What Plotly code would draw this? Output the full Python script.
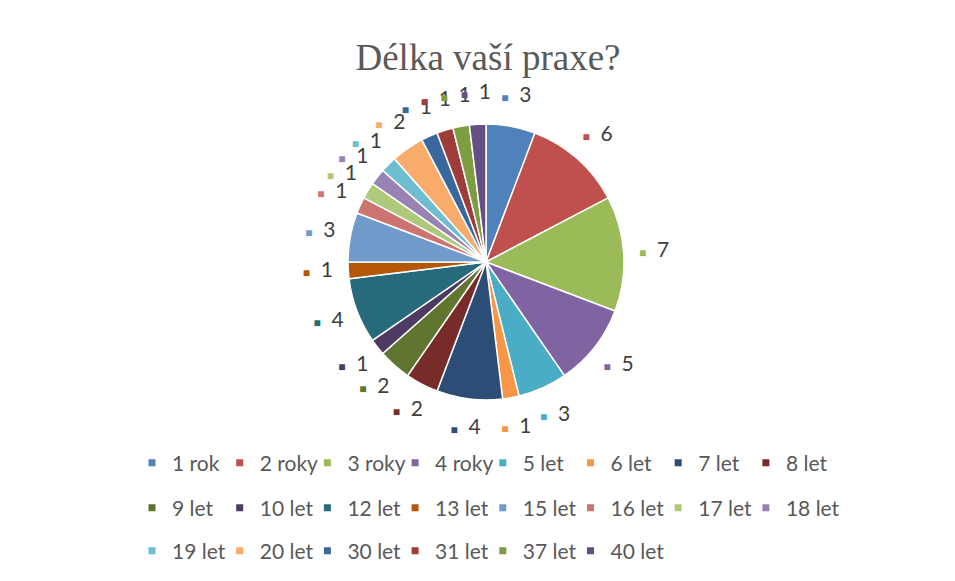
import plotly.graph_objects as go

categories = ["1 rok", "2 roky", "3 roky", "4 roky", "5 let", "6 let", "7 let", "8 let",
              "9 let", "10 let", "12 let", "13 let", "15 let", "16 let", "17 let", "18 let",
              "19 let", "20 let", "30 let", "31 let", "37 let", "40 let"]
counts = [3, 6, 7, 5, 3, 1, 4, 2, 2, 1, 4, 1, 3, 1, 1, 1, 1, 2, 1, 1, 1, 1]
colors = ["#4F81BD", "#C0504D", "#9BBB59", "#8064A2", "#4BACC6", "#F79646", "#2C4D75", "#772C2A",
          "#5F7530", "#4D3B62", "#276A7C", "#B65708", "#729ACA", "#CD7371", "#AFC97A", "#9983B5",
          "#6FBDD1", "#F9AB6B", "#3A679C", "#9F3B38", "#7E9D40", "#664F83"]

OFF = 8  # default margin of the html body
W, H = 955 - 2 * OFF, 581 - 2 * OFF  # keep the page free of scrollbars


def px(x):
    return (x - OFF) / W


def py(y):
    return 1 - (y - OFF) / H


SANS = "Lato, 'Open Sans', sans-serif"

# pie placement (page pixels)
cx, cy, r = 486, 262, 138
LABEL_R = 1.22   # label distance, in pie radii
POLAR_R = 1.35   # polar axis reaches a bit beyond the pie so labels are not clipped
dom = dict(x=[px(cx - r), px(cx + r)], y=[py(cy + r), py(cy - r)])
pdom = dict(x=[px(cx - POLAR_R * r), px(cx + POLAR_R * r)],
            y=[py(cy + POLAR_R * r), py(cy - POLAR_R * r)])

total = sum(counts)
mids = []
acc = 0
for v in counts:
    mids.append(360.0 * (acc + v / 2) / total)
    acc += v

label_html = [f"<span style='color:{c};font-size:12px'>■</span>  {v}" for c, v in zip(colors, counts)]

fig = go.Figure()
fig.add_trace(go.Pie(
    labels=categories, values=counts, sort=False, direction="clockwise", rotation=0,
    marker=dict(colors=colors, line=dict(color="white", width=1.5)),
    textinfo="none", hoverinfo="label+value", showlegend=False, domain=dom,
))
# data labels placed around the pie on a polar axis centred on the pie
fig.add_trace(go.Scatterpolar(
    r=[LABEL_R] * len(counts), theta=mids, mode="text", text=label_html,
    textposition="middle center", cliponaxis=False, hoverinfo="skip", showlegend=False,
    textfont=dict(family=SANS, size=21, color="#404040"), subplot="polar",
))
# legend entries, three rows like the original
legend_names = ["legend", "legend2", "legend3"]
per_row = 8
for i, (cat, col) in enumerate(zip(categories, colors)):
    fig.add_trace(go.Scatterpolar(
        r=[None], theta=[None], mode="markers", name=cat,
        marker=dict(symbol="square", size=7, color=col),
        legend=legend_names[i // per_row], showlegend=True, subplot="polar",
    ))
# empty spacer entry at the end of each row so the last label is not cut off
for ln in legend_names:
    fig.add_trace(go.Scatterpolar(
        r=[None], theta=[None], mode="markers", name=" ",
        marker=dict(symbol="square", size=7, color="rgba(0,0,0,0)"),
        legend=ln, showlegend=True, subplot="polar", hoverinfo="skip",
    ))

row_y = [463, 508, 551]
leg_common = dict(orientation="h", xanchor="left", yanchor="middle",
                  font=dict(family=SANS, size=21, color="#595959"),
                  entrywidth=42.7, entrywidthmode="pixels", itemwidth=30,
                  traceorder="normal", bgcolor="rgba(0,0,0,0)")

fig.update_layout(
    width=W, height=H,
    margin=dict(l=0, r=0, t=0, b=0),
    paper_bgcolor="white", plot_bgcolor="white",
    polar=dict(domain=pdom, bgcolor="rgba(0,0,0,0)",
               radialaxis=dict(visible=False, range=[0, POLAR_R]),
               angularaxis=dict(visible=False, rotation=90, direction="clockwise")),
    title=dict(text="Délka vaší praxe?", x=px(488), xanchor="center", y=py(57), yanchor="middle",
               font=dict(family="'Liberation Serif', 'Times New Roman', serif", size=37, color="#595959")),
    legend=dict(x=px(132), y=py(row_y[0]), **leg_common),
    legend2=dict(x=px(132), y=py(row_y[1]), **leg_common),
    legend3=dict(x=px(132), y=py(row_y[2]), **leg_common),
)

fig.write_html("out.html")
